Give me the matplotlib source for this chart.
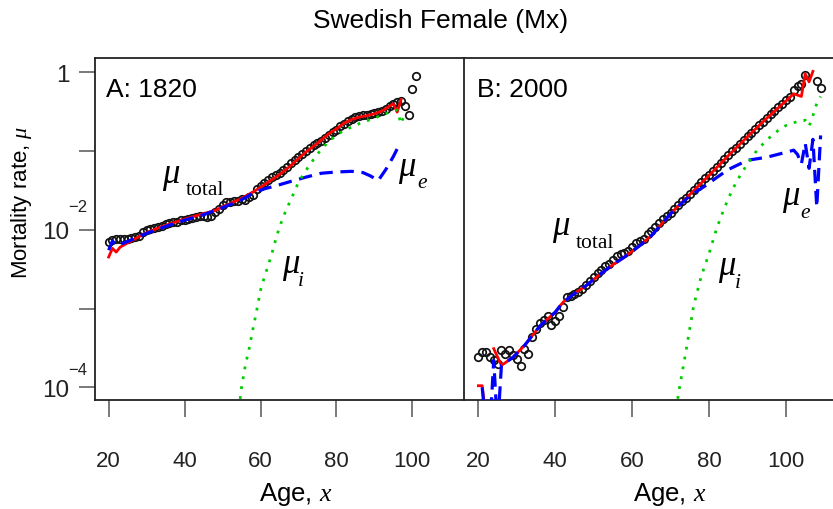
import numpy as np
import matplotlib
matplotlib.use('Agg')
import matplotlib.pyplot as plt

plt.rcParams['font.family'] = ['Liberation Sans', 'DejaVu Sans']
plt.rcParams['mathtext.fontset'] = 'custom'
plt.rcParams['mathtext.it'] = 'Liberation Serif:italic'
plt.rcParams['mathtext.rm'] = 'Liberation Serif'
plt.rcParams['mathtext.bf'] = 'Liberation Serif:bold'

# ---------------- data ----------------
# Panel A: 1820
ageA_obs = list(range(20, 102))
muA_obs = [0.00706, 0.00748, 0.00764, 0.00764, 0.00764, 0.00771, 0.00780, 0.00803, 0.00841, 0.00929,
           0.00994, 0.0102, 0.0106, 0.0107, 0.0113, 0.0119, 0.0121, 0.0124, 0.0127, 0.0131,
           0.0134, 0.0137, 0.0140, 0.0144, 0.0151, 0.0148, 0.0144, 0.0151, 0.0167, 0.0184,
           0.0207, 0.0224, 0.0224, 0.0234, 0.0234, 0.0246, 0.0238, 0.0258, 0.0277, 0.0330,
           0.0355, 0.0395, 0.0430, 0.0470, 0.0490, 0.0522, 0.0574, 0.0621, 0.0698, 0.0755,
           0.0834, 0.0918, 0.0993, 0.109, 0.117, 0.125, 0.135, 0.147, 0.161, 0.173,
           0.185, 0.204, 0.221, 0.239, 0.255, 0.268, 0.276, 0.281, 0.283, 0.290,
           0.301, 0.310, 0.320, 0.342, 0.366, 0.388, 0.416, 0.428, 0.366, 0.281,
           0.614, 0.879]

ageA_total = [20, 21, 22, 23, 25, 27, 30, 33, 36, 40, 43, 46, 48, 50, 52, 55, 58, 60, 62, 65,
              68, 70, 72, 75, 78, 80, 82, 84, 86, 88, 90, 92, 94, 95, 96, 97]
muA_total = [0.0045, 0.0058, 0.0052, 0.0060, 0.0068, 0.0077, 0.0092, 0.0105, 0.0118, 0.0136,
             0.0150, 0.0165, 0.0175, 0.0195, 0.0215, 0.0250, 0.0300, 0.0345, 0.0400, 0.0500,
             0.0650, 0.0800, 0.0970, 0.125, 0.165, 0.190, 0.225, 0.250, 0.268, 0.280,
             0.295, 0.320, 0.370, 0.395, 0.310, 0.445]

ageA_ext = [20, 21, 22, 24, 27, 30, 35, 40, 45, 50, 55, 58, 61, 64, 68, 72, 76, 80, 84, 87,
            89, 91, 93, 95, 96]
muA_ext = [0.0055, 0.0072, 0.0063, 0.0068, 0.0078, 0.0090, 0.0110, 0.0132, 0.0155, 0.0190,
           0.0240, 0.0290, 0.0330, 0.0360, 0.0410, 0.0465, 0.0520, 0.0540, 0.0550, 0.0530,
           0.0480, 0.0420, 0.0580, 0.0850, 0.1060]

ageA_int = [54, 55, 56, 57, 58, 59, 60, 61, 62, 63, 64, 65, 66, 67, 68, 69, 70, 72, 74, 76,
            78, 80, 82, 84, 86, 88, 90, 92, 94, 95, 96, 97, 98]
muA_int = [4e-5, 1.0e-4, 1.9e-4, 3.1e-4, 5.5e-4, 9.5e-4, 1.7e-3, 2.5e-3, 3.5e-3, 5.0e-3,
           7.5e-3, 0.0108, 0.0145, 0.019, 0.024, 0.031, 0.040, 0.057, 0.078, 0.105,
           0.132, 0.158, 0.182, 0.200, 0.222, 0.240, 0.260, 0.285, 0.310, 0.325,
           0.330, 0.220, 0.300]

# Panel B: 2000
ageB_obs = list(range(20, 106)) + [108, 109]
muB_obs = [2.4e-4, 2.8e-4, 2.8e-4, 2.45e-4, 2.2e-4, 2.0e-4, 3.0e-4, 2.65e-4, 3.0e-4, 2.6e-4,
           2.3e-4, 1.85e-4, 3.1e-4, 2.65e-4, 4.3e-4, 5.5e-4, 6.6e-4, 7.2e-4, 8.0e-4, 6.1e-4,
           6.9e-4, 8.0e-4, 1.05e-3, 1.39e-3, 1.45e-3, 1.52e-3, 1.62e-3, 1.77e-3, 2.0e-3, 2.26e-3,
           2.5e-3, 2.8e-3, 3.1e-3, 3.44e-3, 3.68e-3, 4.1e-3, 4.69e-3, 4.9e-3, 5.1e-3, 5.3e-3,
           6.1e-3, 6.8e-3, 7.2e-3, 7.6e-3, 8.8e-3, 9.5e-3, 0.0107, 0.0120, 0.0135, 0.0150,
           0.0165, 0.0182, 0.0203, 0.0228, 0.0255, 0.0285, 0.0320, 0.0360, 0.0400, 0.0450,
           0.0500, 0.0560, 0.0630, 0.0700, 0.0790, 0.0880, 0.0990, 0.110, 0.123, 0.137,
           0.153, 0.170, 0.190, 0.212, 0.235, 0.262, 0.290, 0.320, 0.355, 0.395,
           0.440, 0.480, 0.585, 0.656, 0.700, 0.930, 0.780, 0.626]

ageB_total = [20, 21, 22, 23, 24, 26, 29, 32, 36, 40, 42, 45, 48, 52, 55, 58, 62, 65, 70, 75,
              80, 85, 90, 95, 100, 102, 104, 105, 106, 107]
muB_total = [1.05e-4, 1.05e-4, 4e-5, np.nan, 3.1e-4, 1.9e-4, 2.4e-4, 3.4e-4, 6.0e-4, 9.0e-4,
             1.2e-3, 1.55e-3, 1.95e-3, 2.8e-3, 3.6e-3, 4.5e-3, 6.3e-3, 8.4e-3, 0.016, 0.028,
             0.049, 0.087, 0.152, 0.260, 0.430, 0.530, 0.490, 0.950, 0.750, 1.020]

ageB_ext = [21, 22, 23, 24, 25, 26, 29, 32, 36, 40, 42, 45, 48, 52, 55, 58, 62, 65, 70, 75,
            79, 82, 85, 90, 95, 100, 102, 103, 104, 105, 106, 107, 108, 109]
muB_ext = [1.0e-4, 3e-5, 3e-5, 2.2e-4, 3e-5, 1.9e-4, 2.4e-4, 3.4e-4, 6.0e-4, 9.0e-4,
           1.2e-3, 1.55e-3, 1.95e-3, 2.8e-3, 3.6e-3, 4.5e-3, 6.3e-3, 8.4e-3, 0.016, 0.027,
           0.036, 0.046, 0.058, 0.076, 0.083, 0.096, 0.102, 0.090, 0.068, 0.125,
           0.060, 0.140, 0.0193, 0.157]

ageB_int = [71, 72, 74, 76, 78, 80, 82, 84, 86, 88, 90, 92, 94, 96, 98, 100, 102, 104, 105,
            106, 107, 108, 109]
muB_int = [3e-5, 8.2e-5, 2.9e-4, 1.1e-3, 2.6e-3, 5.0e-3, 0.0105, 0.019, 0.032, 0.048,
           0.069, 0.095, 0.122, 0.152, 0.182, 0.210, 0.228, 0.240, 0.245, 0.205,
           0.280, 0.400, 0.490]

xticks = [20, 40, 60, 80, 100]
yticks = [1e-4, 1e-3, 1e-2, 1e-1, 1]
ytick_labels = ['10', '', '10', '', '1']

# ---------------- figure ----------------
W, H = 833, 510
fig = plt.figure(figsize=(W / 100, H / 100), dpi=100)


def fx(px):
    return px / W


def fy(py):
    return 1 - py / H


axA = fig.add_axes([fx(95), fy(401), (464 - 95) / W, (401 - 59) / H])
axB = fig.add_axes([fx(464.5), fy(401), 373.8 / W, (401 - 59) / H])

for ax, (ao, mo, at, mt, ae, me, ai, mi) in zip(
        [axA, axB],
        [(ageA_obs, muA_obs, ageA_total, muA_total, ageA_ext, muA_ext, ageA_int, muA_int),
         (ageB_obs, muB_obs, ageB_total, muB_total, ageB_ext, muB_ext, ageB_int, muB_int)]):
    ax.set_yscale('log')
    ax.plot(ao, mo, 'o', mfc='none', mec='#111111', ms=5.4, mew=1.25, zorder=2)
    ax.plot(at, mt, '-', color='#ff0000', lw=2.0, zorder=3)
    ax.plot(ae, me, color='#0000ff', lw=2.3, dashes=(4.2, 2.4), zorder=4)
    ax.plot(ai, mi, color='#00cc00', lw=2.0, dashes=(1.0, 2.6), zorder=4)
    ax.set_xlim(16.4, 113.6)
    ax.set_ylim(10 ** -4.16, 10 ** 0.178)
    ax.set_xticks(xticks)
    ax.set_xticklabels([str(t) for t in xticks])
    ax.minorticks_off()
    ax.tick_params(axis='x', direction='out', length=12.2, width=1.1, color='#555555',
                   pad=24, labelsize=16, labelcolor='#222222')
    for s in ax.spines.values():
        s.set_linewidth(1.3)
        s.set_color('#222222')

axB.spines['left'].set_visible(False)
axA.set_yticks(yticks)
axA.set_yticklabels(ytick_labels)
axA.minorticks_off()
axA.tick_params(axis='y', direction='out', length=11.5, width=1.1, color='#555555',
                pad=7, labelsize=17.5, labelcolor='#222222')
axB.set_yticks([])
axB.minorticks_off()

# exponent parts of the y tick labels
fig.text(fx(68), fy(207.5), '\u22122', ha='left', va='center', fontsize=12, color='#222222')
fig.text(fx(68), fy(371), '\u22124', ha='left', va='center', fontsize=12, color='#222222')

# titles and axis labels
fig.text(fx(440.5), fy(21), 'Swedish Female (Mx)', ha='center', va='center', fontsize=19)
fig.text(fx(22), fy(202), r'Mortality rate, $\mu$', rotation=90, ha='center', va='center',
         fontsize=16)
fig.text(fx(296), fy(495), r'Age, $x$', ha='center', va='center', fontsize=18.5)
fig.text(fx(670), fy(495), r'Age, $x$', ha='center', va='center', fontsize=18.5)

fig.text(fx(106), fy(97), 'A: 1820', ha='left', va='baseline', fontsize=19)
fig.text(fx(477), fy(97), 'B: 2000', ha='left', va='baseline', fontsize=19)

# curve labels: mu with subscript
serif = ['Liberation Serif', 'DejaVu Serif']
mu_labels = [
    # (mu left px, mu baseline px, subscript, subscript offset px, italic subscript)
    (162, 183, 'total', 24, False),
    (398, 176, 'e', 19, True),
    (282, 273, 'i', 16, True),
    (552, 235, 'total', 24, False),
    (782, 205, 'e', 18, True),
    (718, 275, 'i', 17, True),
]
for (mx, my, sub, off, ital) in mu_labels:
    fig.text(fx(mx), fy(my), '\u03bc', ha='left', va='baseline', fontsize=25,
             family=serif, style='italic')
    fig.text(fx(mx + off), fy(my + 12.5), sub, ha='left', va='baseline', fontsize=15.5,
             family=serif, style='italic' if ital else 'normal')

fig.savefig('out.png', dpi=100)
